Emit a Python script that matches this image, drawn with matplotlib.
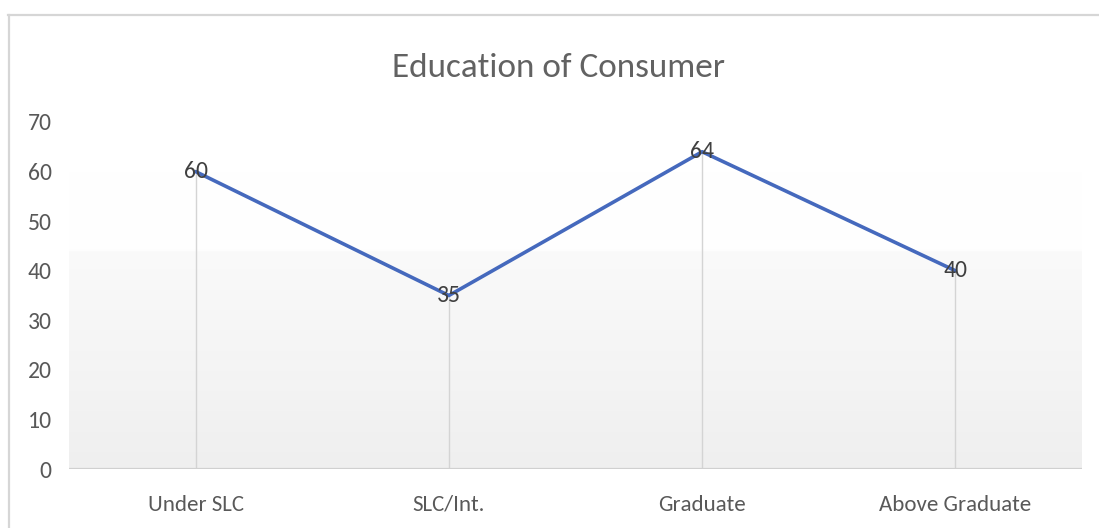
import numpy as np
import matplotlib.pyplot as plt
from matplotlib.font_manager import fontManager

categories = ["Under SLC", "SLC/Int.", "Graduate", "Above Graduate"]
values = [60, 35, 64, 40]
y_ticks = [0, 10, 20, 30, 40, 50, 60, 70]
title = "Education of Consumer"

# prefer a Calibri-like face
names = {f.name for f in fontManager.ttflist}
if "Carlito" in names:
    family = ["Carlito"]
elif "Liberation Sans Narrow" in names:
    family = ["Liberation Sans Narrow"]
else:
    family = ["Lato"]
plt.rcParams["font.family"] = family + ["DejaVu Sans"]

W, H = 1099, 528
fig = plt.figure(figsize=(W / 100, H / 100), dpi=100)
fig.patch.set_facecolor("white")

# chart frame
frame = fig.add_axes([0, 0, 1, 1], zorder=-5)
frame.set_xlim(0, W)
frame.set_ylim(H, 0)
frame.axis("off")
frame.plot([8, W], [15, 15], color="#d6d6d6", lw=1.6)
frame.plot([9, 9], [15, H], color="#d6d6d6", lw=1.6)

# plot area in pixel coordinates
left, right, top, bottom = 69, 1082, 122, 469
ax = fig.add_axes([left / W, 1 - bottom / H, (right - left) / W, (bottom - top) / H])
x = np.arange(len(categories))
ax.set_xlim(-0.5, len(categories) - 0.5)
ax.set_ylim(0, 70)

# soft vertical gradient background
yy = np.linspace(0, 70, 400)
shade = np.where(yy > 44, 1 - 0.004 * np.clip((60 - yy) / 16, 0, 1),
                 0.98 - 0.042 * (44 - yy) / 44)
img = np.repeat(shade.reshape(-1, 1, 1), 3, axis=2)
ax.imshow(img, extent=(-0.5, len(categories) - 0.5, 0, 70), origin="lower",
          aspect="auto", zorder=0, vmin=0, vmax=1)

# drop lines
for xi, v in zip(x, values):
    ax.plot([xi, xi], [0, v], color="#d4d4d4", lw=1, zorder=1)

ax.axhline(0, color="#d0d0d0", lw=1.6, zorder=2)
ax.plot(x, values, color="#4569BD", lw=2.6, solid_capstyle="round", zorder=3)

for xi, v in zip(x, values):
    ax.text(xi, v, str(v), ha="center", va="center", fontsize=17,
            color="#404040", zorder=4)

for s in ax.spines.values():
    s.set_visible(False)
ax.set_xticks(x)
ax.set_xticklabels(categories, fontsize=16.5, color="#595959")
ax.set_yticks(y_ticks)
ax.set_yticklabels([str(t) for t in y_ticks], fontsize=17, color="#595959")
ax.tick_params(length=0)
ax.tick_params(axis="x", pad=18.5)
ax.tick_params(axis="y", pad=12.5)

fig.text(558 / W, 1 - 77 / H, title, ha="center", va="baseline",
         fontsize=25.3, color="#626262")

fig.savefig("out.png", dpi=100)
